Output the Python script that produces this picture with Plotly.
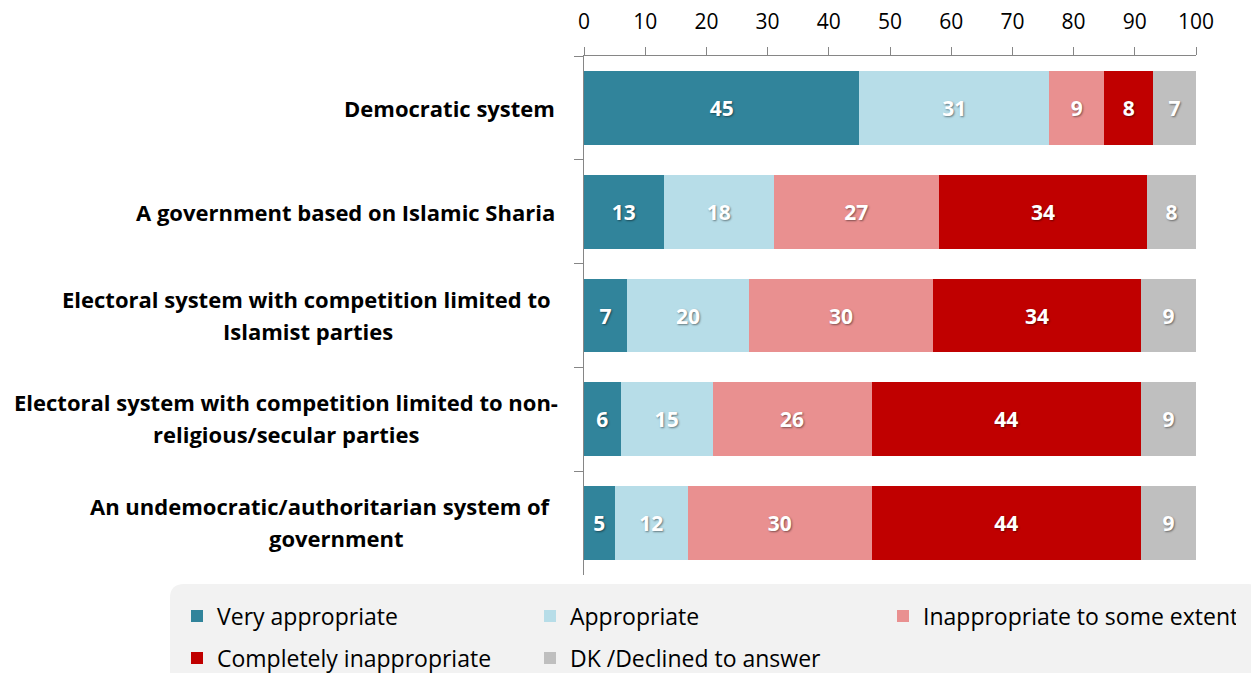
import plotly.graph_objects as go

# Survey items (top to bottom) and share of answers, in percent
categories = [
    "Democratic system",
    "A government based on Islamic Sharia",
    "Electoral system with competition limited to<br>Islamist parties",
    "Electoral system with competition limited to non-<br>religious/secular parties",
    "An undemocratic/authoritarian system of<br>government",
]
series_names = [
    "Very appropriate",
    "Appropriate",
    "Inappropriate to some extent",
    "Completely inappropriate",
    "DK /Declined to answer",
]
very_appropriate = [45, 13, 7, 6, 5]
appropriate = [31, 18, 20, 15, 12]
inappropriate_some = [9, 27, 30, 26, 30]
completely_inappropriate = [8, 34, 34, 44, 44]
dk_declined = [7, 8, 9, 9, 9]
x_ticks = [0, 10, 20, 30, 40, 50, 60, 70, 80, 90, 100]

series_values = [very_appropriate, appropriate, inappropriate_some,
                 completely_inappropriate, dk_declined]
colors = ["#31849b", "#b7dde8", "#e99090", "#c00000", "#bfbfbf"]
legend_of = ["legend", "legend", "legend", "legend2", "legend2"]

# layout of wrapped labels: right edge of the first line, centre of the second (px)
first_line_right = [557, 557, 553, 560, 553]
second_line_centre = [None, None, 308, 286, 336]

FONT = "Open Sans"
W, H = 1251, 673
M_L, M_R, M_T, M_B = 584, 55, 56, 98
PW, PH = W - M_L - M_R, H - M_T - M_B


def px_x(p):
    return (p - M_L) / PW


def px_y(p):
    return (H - M_B - p) / PH


fig = go.Figure()
for name, vals, col, lg in zip(series_names, series_values, colors, legend_of):
    fig.add_trace(go.Bar(
        y=categories, x=vals, name=name, orientation="h",
        marker=dict(color=col, line=dict(width=0)),
        text=vals, texttemplate="%{text}", textposition="inside",
        insidetextanchor="middle", constraintext="none",
        textfont=dict(family=FONT, size=21, color="white", weight="bold",
                      shadow="1px 1px 2px rgba(0,0,0,0.45)"),
        legend=lg,
    ))

# Category labels to the left of the axis
label_font = dict(family=FONT, size=22, color="black", weight="bold")
for cat, right, centre in zip(categories, first_line_right, second_line_centre):
    lines = cat.split("<br>")
    if len(lines) == 1:
        fig.add_annotation(
            x=px_x(right), xref="paper", y=cat, yref="y", xanchor="right",
            text=cat, showarrow=False, font=label_font,
        )
    else:
        fig.add_annotation(
            x=px_x(right), xref="paper", y=cat, yref="y", xanchor="right",
            yshift=17, text=lines[0], showarrow=False, font=label_font,
        )
        fig.add_annotation(
            x=px_x(centre), xref="paper", y=cat, yref="y", xanchor="center",
            yshift=-15, text=lines[1], showarrow=False, font=label_font,
        )

# Rounded grey panel behind the legend
x0, x1, y0, y1, r = px_x(170), px_x(1262), px_y(584), px_y(690), 14
rx, ry = r / PW, r / PH
panel = (f"M {x0 + rx},{y0} L {x1 - rx},{y0} Q {x1},{y0} {x1},{y0 - ry} "
         f"L {x1},{y1 + ry} Q {x1},{y1} {x1 - rx},{y1} L {x0 + rx},{y1} "
         f"Q {x0},{y1} {x0},{y1 + ry} L {x0},{y0 - ry} Q {x0},{y0} {x0 + rx},{y0} Z")
fig.add_shape(type="path", path=panel, xref="paper", yref="paper",
              fillcolor="#f2f2f2", line=dict(width=0), layer="below")

legend_common = dict(
    orientation="h", xref="paper", yref="paper", xanchor="left", yanchor="middle",
    bgcolor="rgba(0,0,0,0)", font=dict(family=FONT, size=23, color="black"),
    entrywidth=308, entrywidthmode="pixels", traceorder="normal",
)

fig.update_layout(
    width=W, height=H,
    margin=dict(l=M_L, r=M_R, t=M_T, b=M_B, autoexpand=False),
    paper_bgcolor="white", plot_bgcolor="white",
    barmode="stack", bargap=0.29,
    showlegend=True,
    legend=dict(x=px_x(177), y=px_y(616), **legend_common),
    legend2=dict(x=px_x(177), y=px_y(658), **legend_common),
    xaxis=dict(
        side="top", range=[0, 100], tickvals=x_ticks, showgrid=False,
        zeroline=False, showline=True, linecolor="#868686", linewidth=1,
        ticks="outside", ticklen=8, tickcolor="#868686",
        tickfont=dict(family=FONT, size=21, color="black"),
        ticklabelstandoff=10,
    ),
    yaxis=dict(
        autorange="reversed", showticklabels=False, showgrid=False,
        showline=True, linecolor="#868686", linewidth=1,
        ticks="outside", ticklen=9, tickcolor="#868686", tickson="boundaries",
    ),
)

fig.write_html("out.html")
